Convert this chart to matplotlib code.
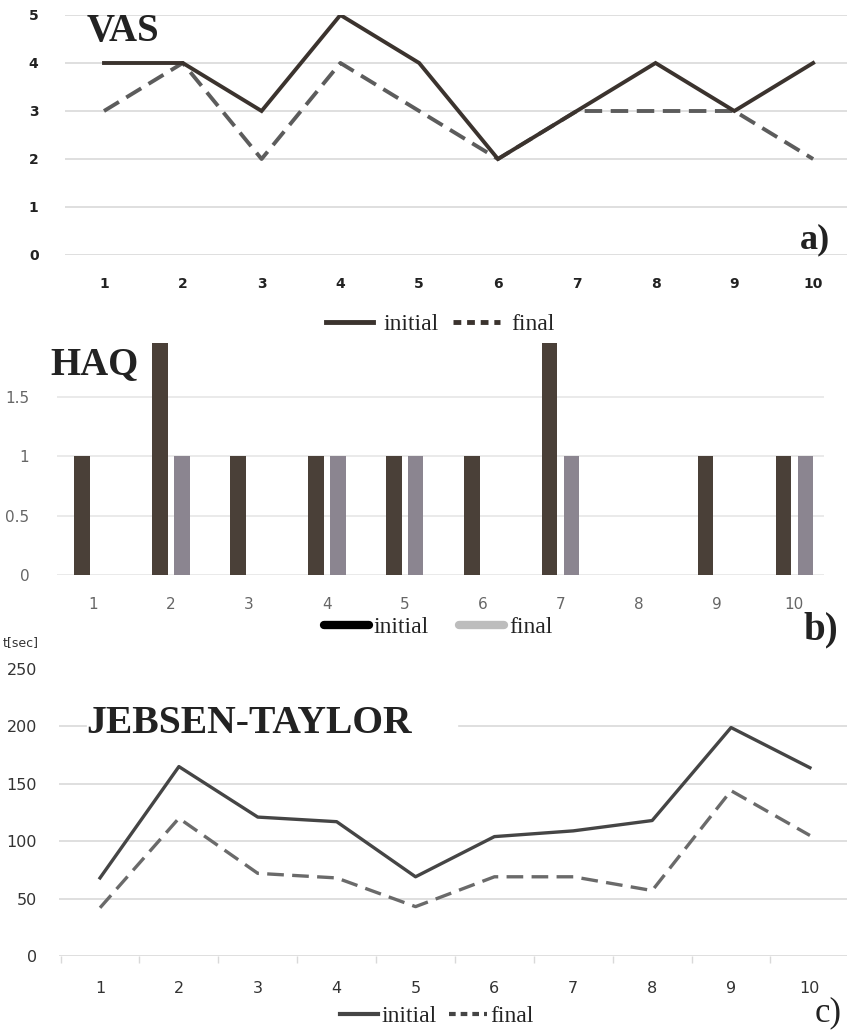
import numpy as np
import matplotlib
matplotlib.use("Agg")
import matplotlib.pyplot as plt
from matplotlib.lines import Line2D

# ---------------- data ----------------
patients = [1, 2, 3, 4, 5, 6, 7, 8, 9, 10]

vas_initial = [4, 4, 3, 5, 4, 2, 3, 4, 3, 4]
vas_final = [3, 4, 2, 4, 3, 2, 3, 3, 3, 2]

haq_initial = [1, 2, 1, 1, 1, 1, 2, 0, 1, 1]
haq_final = [0, 1, 0, 1, 1, 0, 1, 0, 0, 1]

jt_initial = [68, 165, 121, 117, 69, 104, 109, 118, 199, 164]
jt_final = [42, 120, 72, 68, 43, 69, 69, 57, 144, 105]

vas_yticks = [0, 1, 2, 3, 4, 5]
haq_yticks = [0, 0.5, 1, 1.5]
haq_ylabels = ["0", "0.5", "1", "1.5"]
jt_yticks = [0, 50, 100, 150, 200, 250]

W, H = 847, 1035
fig = plt.figure(figsize=(W / 100, H / 100), dpi=100)
fig.patch.set_facecolor("white")


def box(left, top, right, bottom):
    return [left / W, 1 - bottom / H, (right - left) / W, (bottom - top) / H]


def fx(px):
    return px / W


def fy(py):
    return 1 - py / H


serif = "Liberation Serif"
grid_c = "#d9d9d9"

# ---------------- panel a: VAS ----------------
axa = fig.add_axes(box(65, 15, 847, 255))
x = np.array(patients)
axa.plot(x, vas_final, color="#5c5c5c", lw=2.8, dashes=(4.5, 2.2), zorder=3)
axa.plot(x, vas_initial, color="#3b332e", lw=2.8, zorder=4,
         solid_joinstyle="miter")
axa.set_xlim(0.505, 10.43)
axa.set_ylim(0, 5)
axa.set_yticks(vas_yticks)
axa.set_xticks(patients)
for v in vas_yticks:
    axa.axhline(v, color=grid_c, lw=1.2, zorder=1)
for s in axa.spines.values():
    s.set_visible(False)
axa.tick_params(length=0, labelsize=10, colors="#222222")
axa.tick_params(axis="y", pad=19)
axa.tick_params(axis="x", pad=16)
for lab in axa.get_xticklabels() + axa.get_yticklabels():
    lab.set_fontweight("bold")
fig.text(fx(87), fy(41), "VAS", family=serif, fontweight="bold", fontsize=28,
         color="#222222", va="baseline")
fig.text(fx(800), fy(248), "a)", family=serif, fontweight="bold", fontsize=26,
         color="#222222", va="baseline")
ha = [Line2D([], [], color="#3b332e", lw=3.5),
      Line2D([], [], color="#3b332e", lw=3.5, dashes=(1.6, 1.2))]
axa.legend(ha, ["initial", "final"], loc="center", ncol=2, frameon=False,
           bbox_to_anchor=(fx(440), fy(324)), bbox_transform=fig.transFigure,
           prop={"family": serif, "size": 17}, handlelength=2.0,
           handletextpad=0.45, columnspacing=0.6, labelcolor="#222222")

# ---------------- panel b: HAQ ----------------
axb = fig.add_axes(box(57, 343, 824, 575))
axb.bar(x - 0.14, haq_initial, width=0.2, color="#4a4038", zorder=3)
axb.bar(x + 0.14, haq_final, width=0.2, color="#8b8590", zorder=3)
axb.set_xlim(0.538, 10.38)
axb.set_ylim(0, 1.95)
axb.set_yticks(haq_yticks)
axb.set_yticklabels(haq_ylabels)
axb.set_xticks(patients)
for v in haq_yticks:
    axb.axhline(v, color="#e6e6e6", lw=1.2, zorder=1)
for s in axb.spines.values():
    s.set_visible(False)
axb.tick_params(length=0, labelsize=11, colors="#666666")
axb.tick_params(axis="y", pad=20)
axb.tick_params(axis="x", pad=16)
fig.text(fx(50), fy(374), "HAQ", family=serif, fontweight="bold", fontsize=28,
         color="#222222", va="baseline")
fig.text(fx(803), fy(639), "b)", family=serif, fontweight="bold", fontsize=28,
         color="#222222", va="baseline")
hb = [Line2D([], [], color="#000000", lw=6, solid_capstyle="round"),
      Line2D([], [], color="#bdbdbd", lw=6, solid_capstyle="round")]
axb.legend(hb, ["initial", "final"], loc="center", ncol=2, frameon=False,
           bbox_to_anchor=(fx(438), fy(627)), bbox_transform=fig.transFigure,
           prop={"family": serif, "size": 17}, handlelength=1.9,
           handletextpad=0.2, columnspacing=1.3, labelcolor="#222222")

# ---------------- panel c: Jebsen-Taylor ----------------
axc = fig.add_axes(box(59, 669, 847, 956))
axc.plot(x, jt_final, color="#6a6a6a", lw=2.4, dashes=(5, 2.5), zorder=3)
axc.plot(x, jt_initial, color="#454545", lw=2.4, zorder=4)
axc.set_xlim(0.48, 10.47)
axc.set_ylim(0, 250)
axc.set_yticks(jt_yticks)
axc.set_xticks(patients)
axc.set_xticks([p + 0.5 for p in patients[:-1]] + [0.5], minor=True)
for v in jt_yticks[:-2]:
    axc.axhline(v, color=grid_c, lw=1.2, zorder=1)
# the 200 gridline is interrupted by the panel title
axc.axhline(jt_yticks[-2], xmin=0.0, xmax=0.034, color=grid_c, lw=1.2, zorder=1)
axc.axhline(jt_yticks[-2], xmin=0.508, xmax=1.0, color=grid_c, lw=1.2, zorder=1)
for s in axc.spines.values():
    s.set_visible(False)
axc.tick_params(which="major", length=0, labelsize=11.5, colors="#333333")
axc.tick_params(which="minor", length=5, width=1, color=grid_c,
                direction="out")
axc.tick_params(axis="y", pad=16)
axc.tick_params(axis="x", which="major", pad=18)
fig.text(fx(86), fy(733), "JEBSEN-TAYLOR", family=serif, fontweight="bold",
         fontsize=28.5, color="#222222", va="baseline")
fig.text(fx(3), fy(646), "t[sec]", fontsize=9, color="#333333",
         va="baseline")
fig.text(fx(815), fy(1021), "c)", family=serif, fontsize=25,
         color="#222222", va="baseline")
hc = [Line2D([], [], color="#454545", lw=3),
      Line2D([], [], color="#454545", lw=3, dashes=(1.6, 1.2))]
axc.legend(hc, ["initial", "final"], loc="center", ncol=2, frameon=False,
           bbox_to_anchor=(fx(437), fy(1016)), bbox_transform=fig.transFigure,
           prop={"family": serif, "size": 17}, handlelength=1.6,
           handletextpad=0.15, columnspacing=0.5, labelcolor="#222222")

fig.savefig("out.png", dpi=100, facecolor="white")
